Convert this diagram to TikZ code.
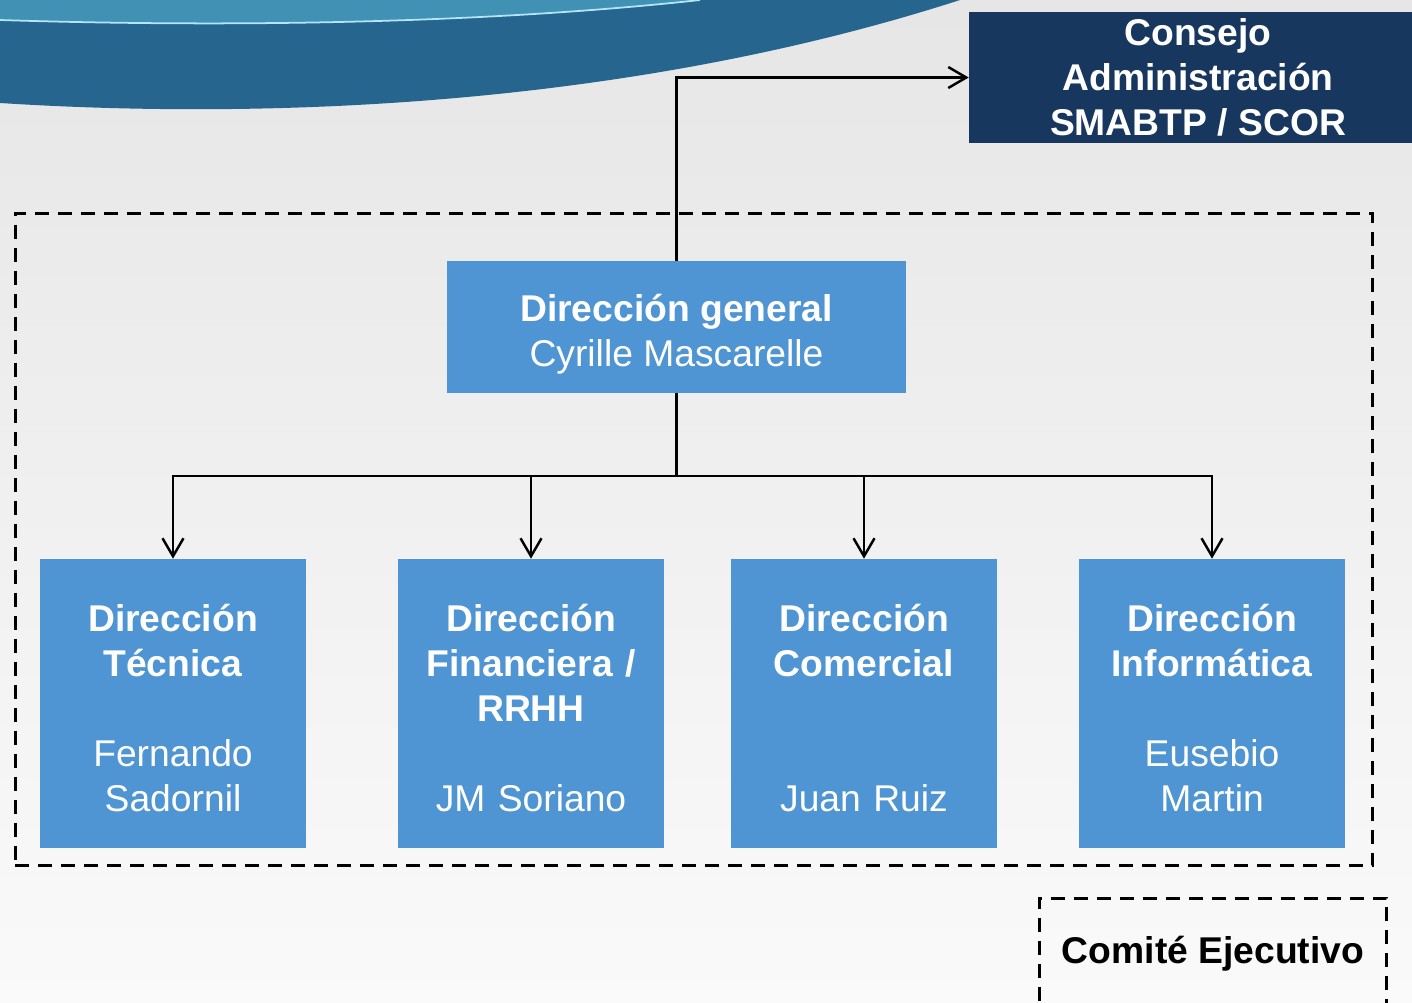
\documentclass[tikz,border=0pt]{standalone}
\usepackage{fontspec}
\setmainfont{Liberation Sans}
\usetikzlibrary{arrows.meta}

\definecolor{navy}{HTML}{17375E}
\definecolor{boxblue}{HTML}{4F95D3}
\definecolor{wavedark}{HTML}{26658D}
\definecolor{wavelight}{HTML}{4091B3}
\definecolor{bgtop}{HTML}{E6E6E6}
\definecolor{bgbottom}{HTML}{FAFAFA}
\newcommand{\orgfont}{\fontsize{21.2}{25.5}\selectfont}

\begin{document}
\begin{tikzpicture}[x=0.02cm,y=-0.02cm,
	>={Straight Barb[length=0.36cm,width=0.42cm]},
	link/.style={line width=1.4pt},
	dirbox/.style={rectangle,fill=boxblue,text=white,inner sep=0pt,minimum width=5.32cm,minimum height=5.78cm,text width=5.2cm,align=center,font=\orgfont},
	general/.style={rectangle,fill=boxblue,text=white,inner sep=0pt,minimum width=9.18cm,minimum height=2.64cm,align=center,font=\orgfont},
	consejo/.style={rectangle,fill=navy,text=white,inner sep=0pt,minimum width=9.16cm,minimum height=2.62cm,align=center,font=\orgfont\bfseries},
	dashbox/.style={rectangle,draw,line width=1.7pt,dash pattern=on 0.28cm off 0.18cm,inner sep=0pt}]

		% background and wave
		\useasboundingbox (0,0) rectangle (1412,1002);
		\shade[top color=bgtop,bottom color=bgbottom] (0,0) rectangle (1412,1002);
		\fill[wavedark] (0,0) -- (0,103) .. controls (300,122) and (650,100) .. (960,0) -- cycle;
		\fill[wavelight] (0,0) -- (0,20) .. controls (250,28) and (500,22) .. (700,0) -- cycle;
		\draw[white!70!cyan,line width=1pt] (0,20) .. controls (250,28) and (500,22) .. (700,0);

		\node[dashbox,minimum width=27.16cm,minimum height=13.06cm] (ejecutivo) at (694,539.5) {};
		\node[dashbox,minimum width=6.96cm,minimum height=2.24cm,font=\orgfont\bfseries] (comite) at (1213,954) {Comité Ejecutivo};

		\node[consejo] (consejo) at (1198,77.5) {Consejo\\Administración\\SMABTP / SCOR};
		\node[general] (general) at (676.5,327) {\rule{0pt}{0.82cm}\textbf{Dirección general}\\Cyrille Mascarelle};

		\node[dirbox] (tecnica) at (173,703.5) {\rule{0pt}{0.73cm}\textbf{Dirección}\\\textbf{Técnica}\\~\\Fernando\\Sadornil};
		\node[dirbox] (financiera) at (531,703.5) {\rule{0pt}{0.73cm}\textbf{Dirección}\\\textbf{Financiera /}\\\textbf{RRHH}\\~\\JM Soriano};
		\node[dirbox] (comercial) at (864,703.5) {\rule{0pt}{0.73cm}\textbf{Dirección}\\\textbf{Comercial}\\~\\~\\Juan Ruiz};
		\node[dirbox] (informatica) at (1212,703.5) {\rule{0pt}{0.73cm}\textbf{Dirección}\\\textbf{Informática}\\~\\Eusebio\\Martin};

		\coordinate (split) at (676.5,476);

		\path[->,draw,link] (general.north) |- (consejo.west);
		\path[draw,link] (general.south) -- (split);
		\foreach \dir in {tecnica,financiera,comercial,informatica}
			\path[->,draw,link] (split) -| (\dir.north);

\end{tikzpicture}
\end{document}
